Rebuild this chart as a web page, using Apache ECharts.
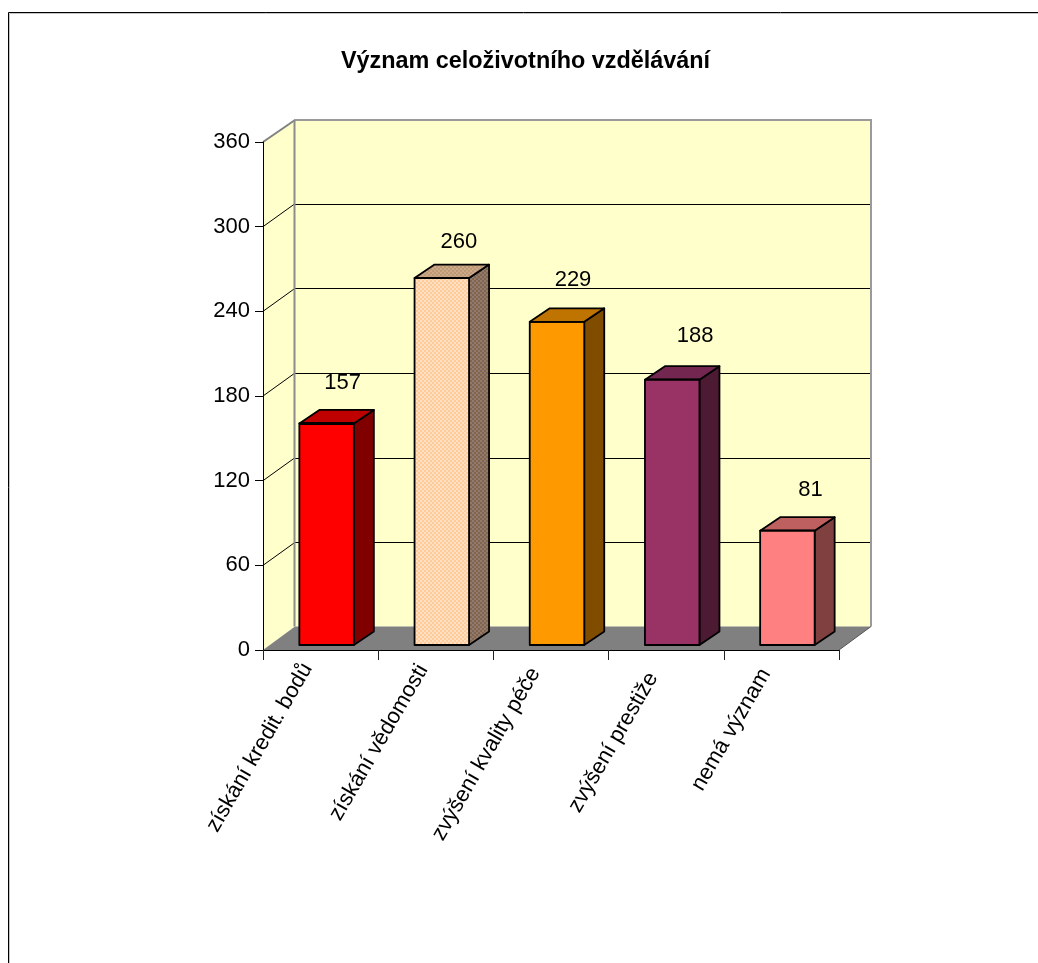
<!DOCTYPE html>
<html>
<head>
<meta charset="utf-8">
<style>html,body{margin:0;padding:0;background:#fff}#chart{width:1038px;height:963px}</style>
<script src="https://cdn.jsdelivr.net/npm/echarts@6/dist/echarts.min.js"></script>
</head>
<body>
<div id="chart"></div>
<script>
const titleText = 'Význam celoživotního vzdělávání';
const categories = ['získání kredit. bodů', 'získání vědomosti', 'zvýšení kvality péče', 'zvýšení prestiže', 'nemá význam'];
const values = [157, 260, 229, 188, 81];
const axisMax = 360;
const axisStep = 60;
const frontColors = ['#FF0000', '#FFCC99', '#FF9900', '#993366', '#FF8080'];
const sideColors = ['#800000', '#806650', '#804D00', '#4D1A33', '#804040'];
const topColors = ['#BF0000', '#BF9973', '#BF7300', '#732650', '#BF6060'];

// Depth of the box the columns stand in, and of the columns themselves (pixels)
const wallDx = 32, wallDy = -23;
const barDx = 20, barDy = -13.5;
const barW = 54.5;
const barShiftX = 6, barShiftY = -5;
// Nudges for the value captions, relative to the column top
const captionX = [22, 23, 22, 29, 29];
const captionY = [-46, -41, -47, -49, -46];
// Padding that slides each rotated category label into its place: along the text, across the text
const labelAlong = [4, 5, 9, 12, 10];
const labelAcross = [26, 24, 26, 17, 25];
const topEdge = [3, 1.8, 1.8, 1.8, 1.8];
const labelFont = '"Liberation Sans", Arial, sans-serif';

function dotted(base, dot) {
  const c = document.createElement('canvas');
  c.width = c.height = 4;
  const g = c.getContext('2d');
  g.fillStyle = base; g.fillRect(0, 0, 4, 4);
  g.fillStyle = dot;
  g.fillRect(0, 0, 2, 2);
  g.fillRect(2, 2, 2, 2);
  return { image: c, repeat: 'repeat' };
}
const fillFront = [null, dotted('#FFCC99', '#FFE0C2'), null, null, null];
const fillSide = [null, dotted('#806650', '#93796A'), null, null, null];
const fillTop = [null, dotted('#BF9973', '#CBAA8C'), null, null, null];

// Walls, floor and gridlines of the box
function renderBox(params, api) {
  const o = api.coord([0, 0]);
  const t = api.coord([0, axisMax]);
  const band = api.size([1, 0])[0];
  const right = api.coord([categories.length - 1, 0])[0] + band / 2;
  const left = o[0] - band / 2;
  const y0 = o[1], y1 = t[1];
  const backTop = y1 + wallDy + 1;
  const backBottom = y0 + wallDy - 0.5;
  const children = [];
  const poly = (points, fill) => ({ type: 'polygon', shape: { points }, style: { fill, stroke: null } });
  const line = (xa, ya, xb, yb, stroke, lineWidth) => ({
    type: 'line', shape: { x1: xa, y1: ya, x2: xb, y2: yb }, style: { stroke, lineWidth, fill: null }
  });
  const bx = left + wallDx, rx = right + wallDx;
  children.push(poly([[bx, backTop], [rx, backTop], [rx, backBottom], [bx, backBottom]], '#FFFFCC'));
  children.push(poly([[left, y1], [bx, backTop], [bx, backBottom], [left, y0]], '#FFFFCC'));
  children.push(poly([[left, y0], [right, y0], [rx, backBottom], [bx, backBottom]], '#808080'));
  for (let v = axisStep; v < axisMax; v += axisStep) {
    const y = api.coord([0, v])[1];
    children.push(line(left, y, bx, y + wallDy, '#000', 1));
    children.push(line(bx, Math.round(y + wallDy) + 0.5, rx, Math.round(y + wallDy) + 0.5, '#000', 1));
  }
  children.push(line(left, y1, bx, backTop, '#808080', 2));
  children.push(line(bx - 1, backTop, rx + 1, backTop, '#9a9a9a', 2));
  children.push(line(bx - 0.5, backTop, bx - 0.5, backBottom, '#8c8c8c', 2));
  children.push(line(rx, backTop, rx, backBottom, '#9a9a9a', 2));
  children.push(line(right, y0, rx, backBottom, '#555', 1));
  return { type: 'group', children };
}

// One column: front face, side face, top face, plus its value caption
function renderColumn(params, api) {
  const i = api.value(0);
  const v = api.value(1);
  const top = api.coord([i, v]);
  const base = api.coord([i, 0]);
  const x0 = top[0] + barShiftX - barW / 2;
  const x1 = x0 + barW;
  const yT = top[1] + barShiftY;
  const yB = base[1] + barShiftY;
  const edge = { stroke: '#000', lineWidth: 1.8, lineJoin: 'round' };
  return {
    type: 'group',
    children: [
      { type: 'polygon', shape: { points: [[x1, yT], [x1 + barDx, yT + barDy], [x1 + barDx, yB + barDy], [x1, yB]] },
        style: Object.assign({ fill: fillSide[i] || sideColors[i] }, edge) },
      { type: 'polygon', shape: { points: [[x0, yT], [x0 + barDx, yT + barDy], [x1 + barDx, yT + barDy], [x1, yT]] },
        style: Object.assign({ fill: fillTop[i] || topColors[i] }, edge) },
      { type: 'rect', shape: { x: x0, y: yT, width: barW, height: yB - yT },
        style: Object.assign({ fill: fillFront[i] || frontColors[i] }, edge) },
      { type: 'line', shape: { x1: x0, y1: yT, x2: x1, y2: yT }, style: { stroke: '#000', lineWidth: topEdge[i] } },
      { type: 'text', x: top[0] + captionX[i], y: top[1] + captionY[i],
        style: { text: String(v), fill: '#000', font: '22px ' + labelFont, align: 'center', verticalAlign: 'middle' } }
    ]
  };
}

// A rich-text style per category label, carrying its padding
const labelRich = {};
categories.forEach((name, i) => {
  labelRich['c' + i] = {
    fontFamily: labelFont, fontSize: 22, color: '#000',
    padding: [0, labelAlong[i], labelAcross[i], 0]
  };
});

const chart = echarts.init(document.getElementById('chart'), null, { renderer: 'canvas' });
chart.setOption({
  animation: false,
  backgroundColor: '#fff',
  title: {
    text: titleText, left: 520.5, top: 45, textAlign: 'center',
    textStyle: { fontFamily: labelFont, fontSize: 23.4, fontWeight: 'bold', color: '#000' }
  },
  grid: { left: 263, right: 199, top: 142, bottom: 313, containLabel: false },
  xAxis: {
    type: 'category',
    z: 2,
    data: categories,
    boundaryGap: true,
    axisLine: { show: true, onZero: false, lineStyle: { color: '#000', width: 1 } },
    axisTick: { show: true, alignWithLabel: false, length: 10, lineStyle: { color: '#222', width: 1 } },
    axisLabel: {
      rotate: 60, interval: 0, margin: 18, color: '#000',
      fontFamily: labelFont, fontSize: 22,
      formatter: (name, i) => '{c' + i + '|' + name + '}',
      rich: labelRich
    }
  },
  yAxis: {
    type: 'value', min: 0, max: axisMax, interval: axisStep,
    z: 2,
    splitLine: { show: false },
    axisLine: { show: true, onZero: false, lineStyle: { color: '#000', width: 1 } },
    axisTick: { show: true, length: 8, lineStyle: { color: '#000', width: 1 } },
    axisLabel: { margin: 13, color: '#000', fontFamily: labelFont, fontSize: 22 }
  },
  graphic: [
    { type: 'line', shape: { x1: 9.5, y1: 13.5, x2: 1038, y2: 13.5 }, style: { stroke: '#c4c4c4', lineWidth: 1 } },
    { type: 'line', shape: { x1: 9.5, y1: 13.5, x2: 9.5, y2: 963 }, style: { stroke: '#c4c4c4', lineWidth: 1 } },
    { type: 'line', shape: { x1: 8.5, y1: 12.5, x2: 1038, y2: 12.5 }, style: { stroke: '#000', lineWidth: 1 } },
    { type: 'line', shape: { x1: 8.5, y1: 12.5, x2: 8.5, y2: 963 }, style: { stroke: '#000', lineWidth: 1 } }
  ],
  series: [
    { type: 'custom', z: 1, clip: false, silent: true, renderItem: renderBox, data: [0], encode: { x: 0 } },
    { type: 'custom', z: 3, clip: false, silent: true, renderItem: renderColumn,
      data: values.map((v, i) => [i, v]), encode: { x: 0, y: 1 } }
  ]
});
</script>
</body>
</html>
